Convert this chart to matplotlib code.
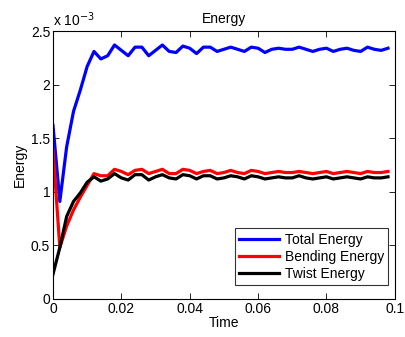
import matplotlib
matplotlib.use('Agg')
import matplotlib.pyplot as plt
from matplotlib.ticker import FuncFormatter
import numpy as np

plt.rcParams['font.family'] = ['Liberation Sans', 'DejaVu Sans']

# time steps, dt = 0.002
dt = 0.002
n_steps = 50

# energies in units of 1e-3
total_energy = [1.62, 0.91, 1.42, 1.75, 1.95, 2.17, 2.31, 2.24, 2.27, 2.37,
                2.32, 2.27, 2.35, 2.35, 2.27, 2.32, 2.37, 2.31, 2.30, 2.36,
                2.34, 2.29, 2.35, 2.35, 2.31, 2.33, 2.35, 2.33, 2.31, 2.35,
                2.34, 2.30, 2.33, 2.34, 2.33, 2.33, 2.35, 2.33, 2.31, 2.33,
                2.34, 2.31, 2.33, 2.34, 2.32, 2.31, 2.35, 2.33, 2.32, 2.34]
bending_energy = [1.40, 0.48, 0.68, 0.83, 0.95, 1.06, 1.17, 1.15, 1.15, 1.21,
                  1.19, 1.16, 1.20, 1.21, 1.17, 1.19, 1.21, 1.17, 1.17, 1.21,
                  1.20, 1.17, 1.19, 1.20, 1.17, 1.18, 1.20, 1.18, 1.17, 1.20,
                  1.19, 1.17, 1.18, 1.19, 1.18, 1.18, 1.19, 1.18, 1.17, 1.18,
                  1.19, 1.17, 1.18, 1.19, 1.18, 1.17, 1.19, 1.18, 1.18, 1.19]
twist_energy = [0.23, 0.48, 0.77, 0.91, 0.99, 1.09, 1.14, 1.10, 1.12, 1.17,
                1.13, 1.11, 1.16, 1.16, 1.11, 1.14, 1.16, 1.13, 1.12, 1.16,
                1.15, 1.12, 1.15, 1.15, 1.12, 1.13, 1.15, 1.14, 1.12, 1.15,
                1.14, 1.12, 1.13, 1.14, 1.13, 1.13, 1.15, 1.13, 1.12, 1.13,
                1.14, 1.12, 1.13, 1.14, 1.13, 1.12, 1.14, 1.13, 1.13, 1.14]
scale = 1e-3

t = np.arange(n_steps) * dt

fs = 10

fig = plt.figure(figsize=(4.06, 3.37), dpi=100)
ax = fig.add_axes([0.1305, 0.1128, 0.842, 0.795])

ax.plot(t, np.array(total_energy)*scale, color='#0000ff', lw=2.3, label='Total Energy')
ax.plot(t, np.array(bending_energy)*scale, color='#ff0000', lw=2.3, label='Bending Energy')
ax.plot(t, np.array(twist_energy)*scale, color='#000000', lw=2.3, label='Twist Energy')

ax.set_xlim(0, 0.1)
ax.set_ylim(0, 2.5e-3)
ax.set_xticks([0, 0.02, 0.04, 0.06, 0.08, 0.1])
ax.set_yticks(np.arange(0, 2.51e-3, 0.5e-3))
ax.xaxis.set_major_formatter(FuncFormatter(lambda v, p: '%g' % round(v, 4)))
ax.yaxis.set_major_formatter(FuncFormatter(lambda v, p: '%g' % round(v/scale, 3)))
ax.tick_params(direction='in', top=True, right=True, length=4, width=0.6,
               labelsize=fs, pad=2)
for s in ax.spines.values():
    s.set_linewidth(0.8)

ax.set_title('Energy', fontsize=fs, pad=6)
ax.set_xlabel('Time', fontsize=fs, labelpad=0)
ax.set_ylabel('Energy', fontsize=fs, labelpad=3)
ax.text(0.0, 1.008, r'x 10$^{-3}$', transform=ax.transAxes, fontsize=fs,
        ha='left', va='bottom')

leg = ax.legend(loc='lower right', fontsize=fs, frameon=True, fancybox=False,
                edgecolor='black', handlelength=2.9, borderpad=0.3,
                labelspacing=0.22, handletextpad=0.4, borderaxespad=0.0,
                bbox_to_anchor=(0.98, 0.053))
leg.get_frame().set_linewidth(0.8)

fig.savefig('out.png', dpi=100)
